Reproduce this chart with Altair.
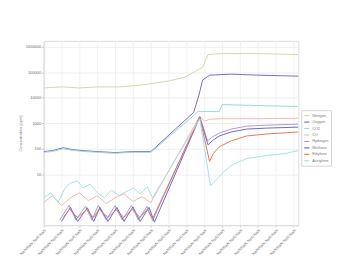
import altair as alt
import pandas as pd

series_names = ["Nitrogen", "Oxygen", "CO2", "CO", "Hydrogen", "Methane", "Ethylene", "Acetylene"]
series_colors = ["#cfdca8", "#7f6cb4", "#9fd6dc", "#f2b9ae", "#ab9be0", "#6f68c4", "#e07a5c", "#a6e0e6"]

tick_days = list(range(15))
y_ticks = [10, 100, 1000, 10000, 100000, 1000000]

a_days = [0.0, 1.0, 2.0, 3.0, 4.26, 5.5, 7.0, 7.9, 8.9, 9.2, 10.0, 12.0, 14.26]
a_vals = [24200, 26500, 24200, 26500, 26500, 31600, 45000, 64000, 155000, 492000, 538000, 538000, 492000]

b_days = [0.0, 0.5, 1.1, 1.6, 2.2, 3.0, 4.0, 5.0, 6.0, 8.4, 8.7, 8.9, 9.3, 10.5, 12.0, 14.26]
b_vals = [77, 84, 109, 92, 84, 77, 70, 77, 77, 2650, 13000, 49200, 76700, 83800, 76700, 70000]

c_days = [0.0, 0.5, 1.1, 1.6, 2.2, 3.0, 4.0, 5.0, 6.0, 8.47, 8.65, 9.84, 10.0, 12.0, 14.26]
c_vals = [72, 78, 100, 86, 78, 72, 66, 72, 72, 2200, 2900, 2900, 5380, 4920, 4510]

d_days = [0.0, 0.5, 1.0, 1.5, 2.0, 2.5, 3.0, 3.5, 4.0, 4.5, 5.0, 5.5, 6.0, 8.74, 9.0, 9.3, 10.0, 12.0, 14.26]
d_vals = [0.77, 1.43, 0.59, 1.19, 1.86, 0.92, 1.43, 0.70, 1.19, 1.70, 0.84, 1.30, 0.77, 1860, 1190, 1430, 1500, 1500, 1570]

e_days = [0.9, 1.42, 1.8, 2.35, 2.7, 3.06, 3.5, 3.99, 4.4, 4.92, 5.3, 5.79, 6.1, 8.74, 9.18, 9.45, 9.84, 10.5, 11.37, 12.5, 14.26]
e_vals = [0.16, 0.59, 0.16, 0.55, 0.16, 0.60, 0.16, 0.58, 0.16, 0.60, 0.16, 0.55, 0.15, 1860, 203, 290, 412, 588, 767, 837, 915]

f_days = [1.0, 1.5, 1.9, 2.45, 2.8, 3.15, 3.6, 4.1, 4.5, 5.0, 5.4, 5.9, 6.2, 8.74, 9.2, 9.5, 9.84, 10.5, 11.37, 12.5, 14.26]
f_vals = [0.14, 0.50, 0.14, 0.48, 0.14, 0.50, 0.14, 0.50, 0.14, 0.52, 0.14, 0.50, 0.13, 1700, 142, 220, 316, 451, 588, 642, 702]

g_days = [1.1, 1.45, 1.9, 2.4, 2.8, 3.1, 3.6, 4.05, 4.5, 4.95, 5.4, 5.8, 6.1, 8.74, 9.29, 9.5, 9.84, 10.5, 11.37, 12.5, 14.26]
g_vals = [0.20, 0.42, 0.20, 0.40, 0.20, 0.42, 0.20, 0.40, 0.20, 0.42, 0.20, 0.42, 0.18, 1700, 31.6, 64, 119, 203, 316, 378, 451]

h_days = [0.0, 0.4, 0.8, 1.2, 1.5, 1.9, 2.2, 2.6, 3.0, 3.4, 3.8, 4.2, 4.6, 5.0, 5.4, 5.8, 6.1, 8.74, 9.34, 9.6, 10.0, 10.5, 11.37, 12.5, 13.5, 14.26]
h_vals = [1.19, 1.86, 0.77, 2.9, 4.5, 5.4, 2.9, 4.1, 1.86, 1.19, 2.4, 1.45, 2.0, 2.9, 1.7, 3.2, 1.19, 1500, 3.5, 5.4, 10.9, 22.2, 41, 54, 64, 84]

all_series = [
    (a_days, a_vals), (b_days, b_vals), (c_days, c_vals), (d_days, d_vals),
    (e_days, e_vals), (f_days, f_vals), (g_days, g_vals), (h_days, h_vals),
]

rows = []
for name, (days, vals) in zip(series_names, all_series):
    for d, v in zip(days, vals):
        rows.append({"series": name, "day": d, "ppm": v})
df = pd.DataFrame(rows)

label_expr = "timeFormat(datetime(2009, 10, 2) + datum.value * 86400000, '%d/%m %H:%M')"

chart = alt.Chart(df).mark_line(strokeWidth=1, clip=True).encode(
    x=alt.X(
        "day:Q",
        scale=alt.Scale(domain=[0, 14.26], nice=False, zero=False),
        axis=alt.Axis(
            values=tick_days, labelExpr=label_expr, labelAngle=-45, labelAlign="right",
            labelBaseline="top", labelFontSize=4, labelColor="#777", title=None,
            labelOverlap=False, grid=True, gridColor="#f1f1f1", tickColor="#ccc",
            tickSize=2, domainColor="#ddd", labelPadding=1,
        ),
    ),
    y=alt.Y(
        "ppm:Q",
        scale=alt.Scale(type="log", domain=[0.1, 1700000], nice=False),
        axis=alt.Axis(
            values=y_ticks, format="d", labelFontSize=4, labelColor="#666",
            title="Concentration (ppm)", titleFontSize=4, titleFontWeight="normal",
            titleColor="#777", titlePadding=3, grid=True, gridColor="#efefef",
            tickColor="#bbb", tickSize=2, domainColor="#ddd", labelPadding=1,
        ),
    ),
    color=alt.Color(
        "series:N",
        scale=alt.Scale(domain=series_names, range=series_colors),
        legend=alt.Legend(
            orient="none", legendX=260, legendY=70, title=None,
            symbolType="stroke", symbolSize=25, symbolStrokeWidth=1.2,
            labelFontSize=3.8, labelColor="#777", rowPadding=0.5, labelOffset=2,
            strokeColor="#d6d6d6", fillColor="white", padding=2,
            labelLimit=40,
        ),
    ),
).properties(
    width=257, height=186,
    padding={"left": 10, "top": 32, "right": 0, "bottom": 2},
).configure_view(stroke="#e6e6e6").configure(font="Liberation Sans", background="white")

chart.save("out.html", embed_options={"renderer": "svg", "actions": False})
